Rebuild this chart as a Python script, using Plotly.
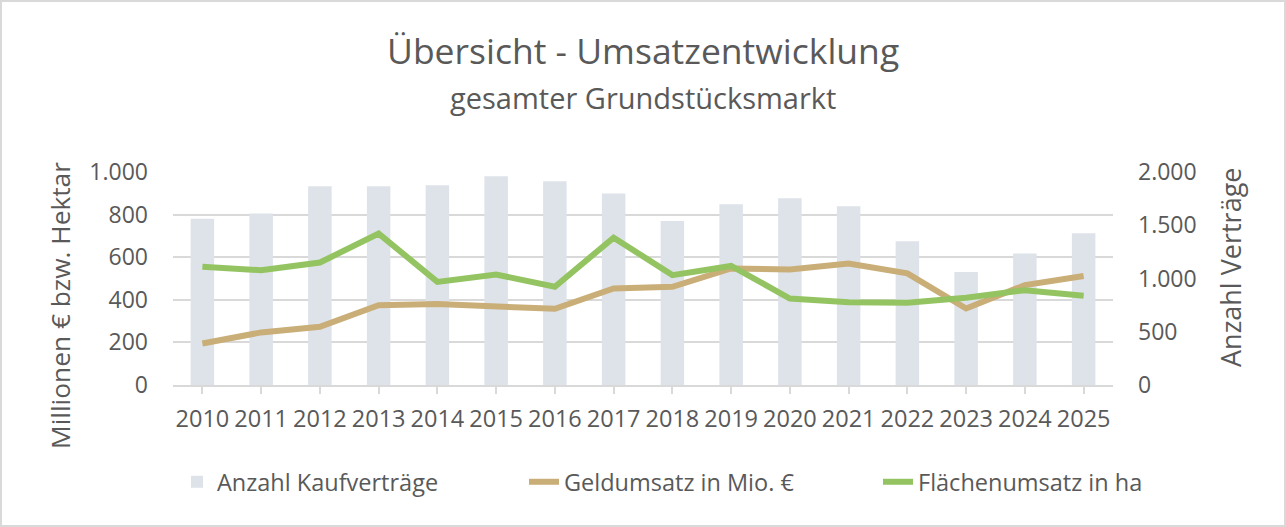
import plotly.graph_objects as go

years = [str(y) for y in range(2010, 2026)]
anzahl_kaufvertraege = [1560, 1610, 1866, 1866, 1875, 1960, 1913, 1797, 1541, 1697, 1753, 1678, 1350, 1060, 1235, 1425]
geldumsatz = [195, 247, 273, 375, 380, 367, 358, 453, 461, 547, 542, 570, 524, 359, 469, 512]
flaechenumsatz = [555, 539, 575, 711, 484, 519, 461, 692, 516, 559, 406, 388, 386, 410, 445, 419]

left_ticks = [0, 200, 400, 600, 800, 1000]
left_ticktext = ["0", "200", "400", "600", "800", "1.000"]
right_ticks = [0, 500, 1000, 1500, 2000]
right_ticktext = ["0", "500", "1.000", "1.500", "2.000"]

title_text = "Übersicht - Umsatzentwicklung"
subtitle_text = "gesamter Grundstücksmarkt"
left_title = "Millionen € bzw. Hektar"
right_title = "Anzahl Verträge"

FONT = "Open Sans"
TXT = "#595959"
GRID = "#D9D9D9"

W, H = 1286, 527
ML, MR, MT, MB = 173, 173, 172, 142
PW, PH = W - ML - MR, H - MT - MB


def px_x(x):
    return (x - ML) / PW


def px_y(y):
    return (MT + PH - y) / PH


fig = go.Figure()
# bars on the primary (right-side) axis so lines on the overlaying axis draw above them
fig.add_trace(go.Bar(x=years, y=anzahl_kaufvertraege, name="Anzahl Kaufverträge",
                     marker=dict(color="#DEE3EA", line=dict(width=0)), yaxis="y",
                     legend="legend", showlegend=True))
fig.add_trace(go.Scatter(x=years, y=geldumsatz, name="Geldumsatz in Mio. €", mode="lines",
                         line=dict(color="#C9AE78", width=6), yaxis="y2", legend="legend2",
                         showlegend=True))
fig.add_trace(go.Scatter(x=years, y=flaechenumsatz, name="Flächenumsatz in ha", mode="lines",
                         line=dict(color="#94C462", width=6), yaxis="y2", legend="legend3",
                         showlegend=True))

leg_common = dict(orientation="h", xref="container", yref="container", xanchor="left",
                  y=1 - 482 / H, yanchor="middle", font=dict(size=23.5, color=TXT),
                  bgcolor="rgba(0,0,0,0)")

fig.update_layout(
    width=W, height=H,
    margin=dict(l=ML, r=MR, t=MT, b=MB),
    paper_bgcolor="white", plot_bgcolor="white",
    font=dict(family=FONT, color=TXT, size=22),
    showlegend=True,
    bargap=0.6,
    xaxis=dict(
        type="category", showgrid=False, showline=True, linecolor=GRID, linewidth=1.5,
        ticks="outside", tickcolor=GRID, ticklen=7, tickwidth=1.5, ticklabelstandoff=5,
        tickfont=dict(size=23.5, color=TXT), fixedrange=True,
    ),
    yaxis=dict(
        range=[0, 2000], tickvals=right_ticks, ticktext=right_ticktext,
        side="right", showgrid=False, zeroline=False,
        tickfont=dict(size=23, color=TXT), ticklabelstandoff=24,
    ),
    yaxis2=dict(
        range=[0, 1000], tickvals=left_ticks, ticktext=left_ticktext,
        overlaying="y", side="left",
        showgrid=True, gridcolor=GRID, gridwidth=1.5, zeroline=False,
        tickfont=dict(size=23, color=TXT), ticklabelstandoff=24,
    ),
    legend=dict(x=177 / W, **leg_common),
    legend2=dict(x=524 / W, **leg_common),
    legend3=dict(x=878 / W, **leg_common),
    annotations=[
        dict(text=title_text, xref="paper", yref="paper", x=0.5, y=px_y(50),
             xanchor="center", yanchor="middle", showarrow=False,
             font=dict(family=FONT, size=35.5, color=TXT)),
        dict(text=subtitle_text, xref="paper", yref="paper", x=0.5, y=px_y(97),
             xanchor="center", yanchor="middle", showarrow=False,
             font=dict(family=FONT, size=29, color=TXT)),
        dict(text=left_title, xref="paper", yref="paper", x=px_x(60), y=px_y(306),
             xanchor="center", yanchor="middle", showarrow=False, textangle=-90,
             font=dict(family=FONT, size=26.3, color=TXT)),
        dict(text=right_title, xref="paper", yref="paper", x=px_x(1230), y=px_y(268),
             xanchor="center", yanchor="middle", showarrow=False, textangle=-90,
             font=dict(family=FONT, size=27, color=TXT)),
    ],
    shapes=[dict(type="rect", xref="paper", yref="paper",
                 x0=(1 - ML) / PW, x1=1 + (MR - 1) / PW, y0=-(MB - 1) / PH, y1=1 + (MT - 1) / PH,
                 line=dict(color=GRID, width=2), fillcolor="rgba(0,0,0,0)", layer="below")],
)

fig.write_html("out.html", config={"displayModeBar": False},
               post_script="document.body.style.margin='0';document.body.style.overflow='hidden';")
